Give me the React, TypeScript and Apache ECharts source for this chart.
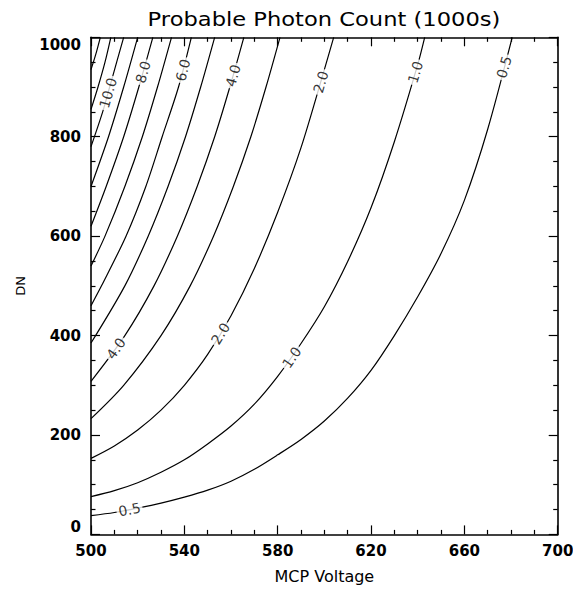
import React, { useEffect, useRef } from 'react';
import * as echarts from 'echarts';

// Contour lines of probable photon count, read as [MCP voltage, DN] points
const c05: number[][] = [[500, 37.6], [510, 44], [520, 53], [530, 63], [540, 75], [550, 89], [560, 107], [570, 131], [580, 160], [590, 191], [600, 228], [610, 274], [620, 330], [630, 400], [640, 478], [650, 565], [660, 672], [670, 815], [680.5, 1000]];
const c1: number[][] = [[500, 76], [510, 88], [520, 104], [530, 125], [540, 150], [550, 182], [560, 218], [570, 262], [580, 318], [590, 384], [600, 458], [610, 549], [620, 657], [630, 790], [640, 945], [643, 1000]];
const c2: number[][] = [[500, 153], [510, 178], [520, 210], [530, 250], [540, 300], [550, 362], [560, 440], [570, 535], [580, 648], [590, 778], [600, 935], [604, 1000]];
const c3: number[][] = [[500, 233], [514, 300], [530, 400], [542.5, 500], [552.5, 600], [561, 700], [568.5, 800], [575, 900], [581, 1000]];
const c4: number[][] = [[500, 308], [514.5, 400], [527, 500], [537, 600], [545.5, 700], [553, 800], [559.5, 900], [565.5, 1000]];
const c5: number[][] = [[500, 385], [514.5, 500], [524.5, 600], [533, 700], [540.5, 800], [547, 900], [553, 1000]];
const c6: number[][] = [[500, 460], [504.5, 500], [515, 600], [523.5, 700], [530.5, 800], [537.5, 900], [543, 1000]];
const c7: number[][] = [[500, 540], [506, 600], [514.5, 700], [522, 800], [528.5, 900], [534.5, 1000]];
const c8: number[][] = [[500, 620], [506.5, 700], [514, 800], [520.5, 900], [526.5, 1000]];
const c9: number[][] = [[500, 700], [507.5, 800], [514, 900], [520, 1000]];
const c10: number[][] = [[500, 780], [505, 850], [508, 900], [511, 950], [514, 1000]];
const c11: number[][] = [[500, 855], [503, 900], [506, 950], [508.5, 1000]];
const c12: number[][] = [[500, 935], [502, 965], [504, 1000]];
const contours = [c05, c1, c2, c3, c4, c5, c6, c7, c8, c9, c10, c11, c12];

// Contour labels
const labelText = ['0.5', '0.5', '1.0', '1.0', '2.0', '2.0', '4.0', '4.0', '6.0', '8.0', '10.0'];
const labelV = [516.5, 677, 586, 639, 555.5, 598.5, 510.7, 560.9, 539.4, 522.3, 507.3];
const labelDN = [50, 940, 356, 930, 404, 910, 374, 923, 934, 930, 888];
const labelAngle = [11, 74, 55, 73, 58, 74, 54, 74, 75, 74, 74];

const titleText = 'Probable Photon Count (1000s)';
const FONT = 'DejaVu Sans';

export default function App() {
  const ref = useRef<HTMLDivElement>(null);
  useEffect(() => {
    const chart = echarts.init(ref.current!, undefined, { renderer: 'svg' });
    const axisLine = { show: true, onZero: false, lineStyle: { color: '#000', width: 1.6 } };
    const tick = (len: number) => ({ show: true, inside: true, length: len, lineStyle: { color: '#000', width: 1.2 } });
    const minor = (len: number) => ({ show: true, splitNumber: 4, length: len, lineStyle: { color: '#000', width: 1.2 } });
    const tickLabel = { color: '#000', fontFamily: FONT, fontSize: 15, fontWeight: 'bold' as const, formatter: (v: number) => String(v) };
    const xBase = { type: 'value' as const, min: 500, max: 700, interval: 40, axisLine, axisTick: tick(9), minorTick: minor(4.5), splitLine: { show: false }, minorSplitLine: { show: false } };
    const yBase = { type: 'value' as const, min: 0, max: 1000, interval: 200, axisLine, axisTick: tick(9), minorTick: minor(4.5), splitLine: { show: false }, minorSplitLine: { show: false } };

    const lineSeries = contours.map((pts) => ({
      type: 'line',
      data: pts,
      xAxisIndex: 0,
      yAxisIndex: 0,
      symbol: 'none',
      showSymbol: false,
      smooth: 0.3,
      clip: true,
      silent: true,
      lineStyle: { color: '#000', width: 1.2 },
      z: 2,
    }));

    const labelSeries = {
      type: 'scatter',
      xAxisIndex: 0,
      yAxisIndex: 0,
      symbolSize: 1,
      silent: true,
      itemStyle: { color: 'rgba(0,0,0,0)' },
      z: 5,
      label: {
        show: true,
        position: 'inside',
        color: '#000',
        fontFamily: FONT,
        fontSize: 14,
        lineHeight: 13,
        backgroundColor: '#fff',
        padding: [0, 2],
      },
      data: labelText.map((t, i) => ({
        value: [labelV[i], labelDN[i]],
        label: { show: true, formatter: t, rotate: labelAngle[i] },
      })),
    };

    chart.setOption({
      animation: false,
      backgroundColor: '#fff',
      graphic: [
        {
          type: 'text',
          x: 324,
          y: 19,
          scaleX: 1.13,
          style: {
            text: titleText,
            fontFamily: FONT,
            fontSize: 20,
            fill: '#000',
            textAlign: 'center',
            textVerticalAlign: 'middle',
          },
        },
      ],
      grid: { left: 91, top: 37.3, width: 466.7, height: 497.1, containLabel: false, outerBoundsMode: 'none' },
      xAxis: [
        {
          ...xBase,
          position: 'bottom',
          axisLabel: { ...tickLabel, margin: 9 },
          name: 'MCP Voltage',
          nameLocation: 'middle',
          nameGap: 34,
          nameTextStyle: { fontFamily: FONT, fontSize: 16, color: '#000' },
        },
        { ...xBase, position: 'top', axisLabel: { show: false } },
      ],
      yAxis: [
        {
          ...yBase,
          position: 'left',
          axisLabel: { ...tickLabel, margin: 10, verticalAlignMinLabel: 'bottom', verticalAlignMaxLabel: 'top' },
          name: 'DN',
          nameLocation: 'middle',
          nameGap: 64,
          nameRotate: 90,
          nameTextStyle: { fontFamily: FONT, fontSize: 13, color: '#000' },
        },
        { ...yBase, position: 'right', axisLabel: { show: false } },
      ],
      series: [...lineSeries, labelSeries],
    });
    return () => chart.dispose();
  }, []);
  return <div ref={ref} style={{ position: 'absolute', left: 0, top: 0, width: 573, height: 590 }} />;
}
